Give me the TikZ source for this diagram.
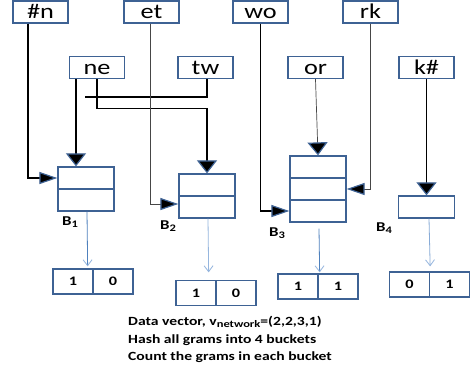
\documentclass[tikz,border=0pt]{standalone}
\usepackage{fontspec}
\setmainfont[FakeStretch=1.25]{Carlito}
\usetikzlibrary{arrows.meta,positioning,calc}
\definecolor{boxblue}{RGB}{62,98,148}
\definecolor{linkblue}{RGB}{79,129,189}
\definecolor{paleblue}{RGB}{150,182,222}
\definecolor{thinline}{RGB}{70,70,70}
\newcommand{\mysubtext}[2]{\raisebox{-0.35ex}{\fontsize{#1}{#1}\selectfont #2}}
\begin{document}
\begin{tikzpicture}[x=1pt,y=-1pt,
  gram/.style={draw=boxblue,line width=1.3pt,minimum width=55pt,minimum height=22pt,inner sep=0pt,
    text height=15pt,text depth=2pt,font=\fontsize{21}{21}\selectfont},
  cellb/.style={draw=boxblue,line width=1.3pt,minimum width=56pt,minimum height=22pt,inner sep=0pt},
  vcell/.style={draw=boxblue,line width=1.3pt,minimum width=40pt,minimum height=25pt,inner sep=0pt,
    font=\fontsize{13}{13}\selectfont\bfseries},
  blbl/.style={inner sep=0pt,font=\fontsize{13.5}{13.5}\selectfont\bfseries},
  note/.style={anchor=base west,inner sep=0pt,font=\fontsize{12.5}{12.5}\selectfont\bfseries},
  heavy/.style={line width=1.4pt,black},
  light/.style={line width=0.7pt,thinline},
  vtip/.style={-{Triangle[length=13pt,width=20pt,line width=1.2pt,color=boxblue,fill=black]}},
  htip/.style={-{Triangle[length=18pt,width=12pt,line width=1.2pt,color=boxblue,fill=black]}},
  bluearr/.style={line width=0.8pt,-{Straight Barb[length=6pt,width=9pt,color=paleblue]}}
]
\fill[white] (0,0) rectangle (470,368);
\useasboundingbox (0,0) rectangle (470,368);

% n-gram boxes
\node[gram] (hn) at (40.5,12) {\#n};
\node[gram] (et) at (151.5,12) {et};
\node[gram] (wo) at (260.5,12) {wo};
\node[gram] (rk) at (370.5,12) {rk};
\node[gram] (ne) at (97,67.5) {ne};
\node[gram] (tw) at (205.5,67.5) {tw};
\node[gram] (or) at (315.5,67.5) {or};
\node[gram] (kh) at (426.5,67.5) {k\#};

% buckets
\node[cellb] (b1a) at (86,178) {};
\node[cellb] (b1b) at (86,200) {};
\node[cellb] (b2a) at (207,185) {};
\node[cellb] (b2b) at (207,207) {};
\node[cellb] (b3a) at (318,167) {};
\node[cellb] (b3b) at (318,189) {};
\node[cellb] (b3c) at (318,211) {};
\node[cellb] (b4a) at (426.5,207) {};

\node[blbl] (l1) at (70,222) {B\mysubtext{10}{1}};
\node[blbl] (l2) at (168,226) {B\mysubtext{10}{2}};
\node[blbl] (l3) at (277,233) {B\mysubtext{10}{3}};
\node[blbl] (l4) at (384,228) {B\mysubtext{10}{4}};

% value vectors
\node[vcell] (v1a) at (73,281.5) {1};
\node[vcell] (v1b) at (113,281.5) {0};
\node[vcell] (v2a) at (196,293) {1};
\node[vcell] (v2b) at (236,293) {0};
\node[vcell] (v3a) at (298,286.5) {1};
\node[vcell] (v3b) at (338,286.5) {1};
\node[vcell] (v4a) at (409.5,284.5) {0};
\node[vcell] (v4b) at (449.5,284.5) {1};

% connectors
\coordinate (twend) at (85,97);
\draw[heavy,htip] ([xshift=-12.5pt]hn.south) |- (b1a.west);
\draw[heavy,vtip] ([xshift=-21pt]ne.south) -- ([xshift=-10pt]b1a.north);
\draw[heavy,vtip] (ne.south) -- ++(0,29.5) -| (b2a.north);
\draw[heavy] ([xshift=1.5pt]tw.south) |- (twend);
\draw[light,htip] ([xshift=-1.5pt]et.south) |- ([yshift=3pt]b2b.west);
\draw[heavy,htip] (wo.south) |- (b3c.west);
\draw[light,vtip] (or.south) -- (b3a.north);
\draw[light,htip] (rk.south) |- (b3b.east);
\draw[heavy,vtip] (kh.south) -- (b4a.north);

\draw[bluearr,linkblue] ([xshift=1pt]b1b.south) -- ([xshift=-6pt,yshift=2pt]v1a.north east);
\draw[bluearr,paleblue] ([xshift=1pt]b2b.south) -- ([xshift=-8pt,yshift=7.5pt]v2a.north east);
\draw[bluearr,linkblue] ([xshift=1pt,yshift=-6pt]b3c.south) -- ([xshift=1pt,yshift=1pt]v3a.north east);
\draw[bluearr,paleblue!80!linkblue] ([xshift=2.5pt]b4a.south) -- ([yshift=5pt]v4a.north east);

% caption
\node[note] (t1) at (128,325) {Data vector, v\mysubtext{10}{network}=(2,2,3,1)};
\node[note] (t2) at (128,343) {Hash all grams into 4 buckets};
\node[note] (t3) at (128,360) {Count the grams in each bucket};
\end{tikzpicture}
\end{document}
